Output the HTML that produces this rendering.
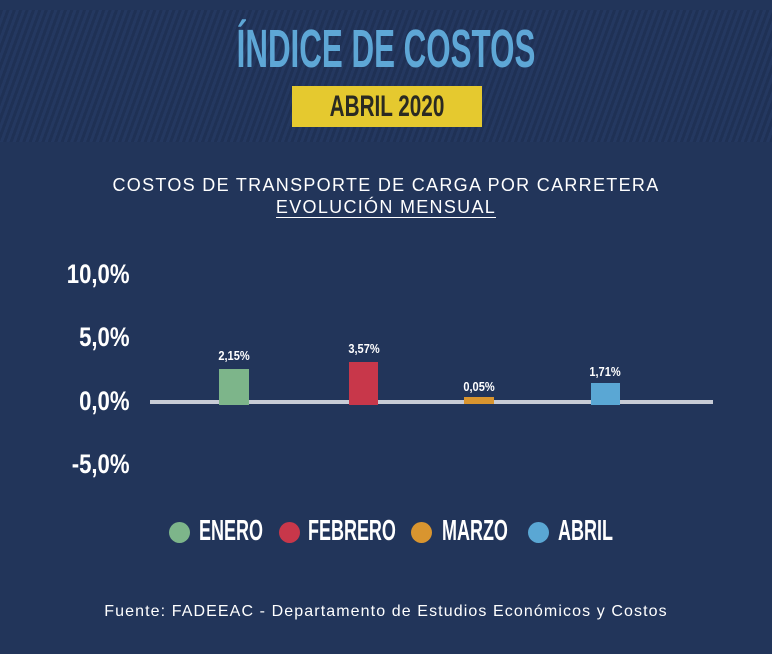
<!DOCTYPE html>
<html><head><meta charset="utf-8"><style>
body{margin:0;width:772px;height:654px;background:#22355a;position:relative;overflow:hidden;font-family:"Liberation Sans",sans-serif}
.n{font-family:"Liberation Sans Narrow","Liberation Sans",sans-serif;font-weight:bold;position:absolute;white-space:nowrap}
.hdr{position:absolute;left:0;top:10px;width:772px;height:132px;background:repeating-linear-gradient(110deg,#1f3155 0 3px,#243860 3px 6px)}
.yl{right:642px;font-size:27px;color:#fff;line-height:1;transform:scaleX(.82);transform-origin:right}
.bar{position:absolute}
.v{font-size:13px;color:#fff;transform:scaleX(.85);text-align:center;width:60px}
.dot{position:absolute;width:21px;height:21px;border-radius:50%;top:522px}
.lg{font-size:29px;color:#fff;top:515px;transform:scaleX(.62);transform-origin:left}
</style></head><body>
<div class="hdr"></div>
<div class="n" style="left:0;width:772px;text-align:center;top:18px;font-size:54px;color:#5ea7d6;transform:scaleX(.58)">ÍNDICE DE COSTOS</div>
<div style="position:absolute;left:292px;top:86px;width:190px;height:41px;background:#e5c92f"></div>
<div class="n" style="left:292px;width:190px;text-align:center;top:90px;font-size:30px;color:#2a2a22;transform:scaleX(.69)">ABRIL 2020</div>
<div style="position:absolute;left:0;width:772px;text-align:center;top:175px;font-size:18px;color:#fff;letter-spacing:1.3px">COSTOS DE TRANSPORTE DE CARGA POR CARRETERA</div>
<div style="position:absolute;left:0;width:772px;text-align:center;top:197px;font-size:18px;color:#fff;letter-spacing:1.3px"><span style="border-bottom:1.5px solid #fff">EVOLUCIÓN MENSUAL</span></div>
<div class="n yl" style="top:261px">10,0%</div>
<div class="n yl" style="top:324px">5,0%</div>
<div class="n yl" style="top:388px">0,0%</div>
<div class="n yl" style="top:451px">-5,0%</div>
<div class="bar" style="left:150px;top:400px;width:563px;height:4px;background:#c8ccd6"></div>
<div class="bar" style="left:219px;top:369px;width:30px;height:36px;background:#7db58a"></div>
<div class="bar" style="left:349px;top:362px;width:29px;height:43px;background:#c8374a"></div>
<div class="bar" style="left:464px;top:397px;width:30px;height:7px;background:#d9952f"></div>
<div class="bar" style="left:591px;top:383px;width:29px;height:22px;background:#5aa7d4"></div>
<div class="n v" style="left:204px;top:348px">2,15%</div>
<div class="n v" style="left:334px;top:341px">3,57%</div>
<div class="n v" style="left:449px;top:379px">0,05%</div>
<div class="n v" style="left:575px;top:364px">1,71%</div>
<div class="dot" style="left:169px;background:#7db58a"></div>
<div class="n lg" style="left:199px">ENERO</div>
<div class="dot" style="left:279px;background:#c8374a"></div>
<div class="n lg" style="left:308px">FEBRERO</div>
<div class="dot" style="left:411px;background:#d9952f"></div>
<div class="n lg" style="left:442px">MARZO</div>
<div class="dot" style="left:528px;background:#5aa7d4"></div>
<div class="n lg" style="left:558px">ABRIL</div>
<div style="position:absolute;left:0;width:772px;text-align:center;top:603px;font-size:16px;color:#fff;letter-spacing:1.1px">Fuente: FADEEAC - Departamento de Estudios Económicos y Costos</div>
</body></html>
